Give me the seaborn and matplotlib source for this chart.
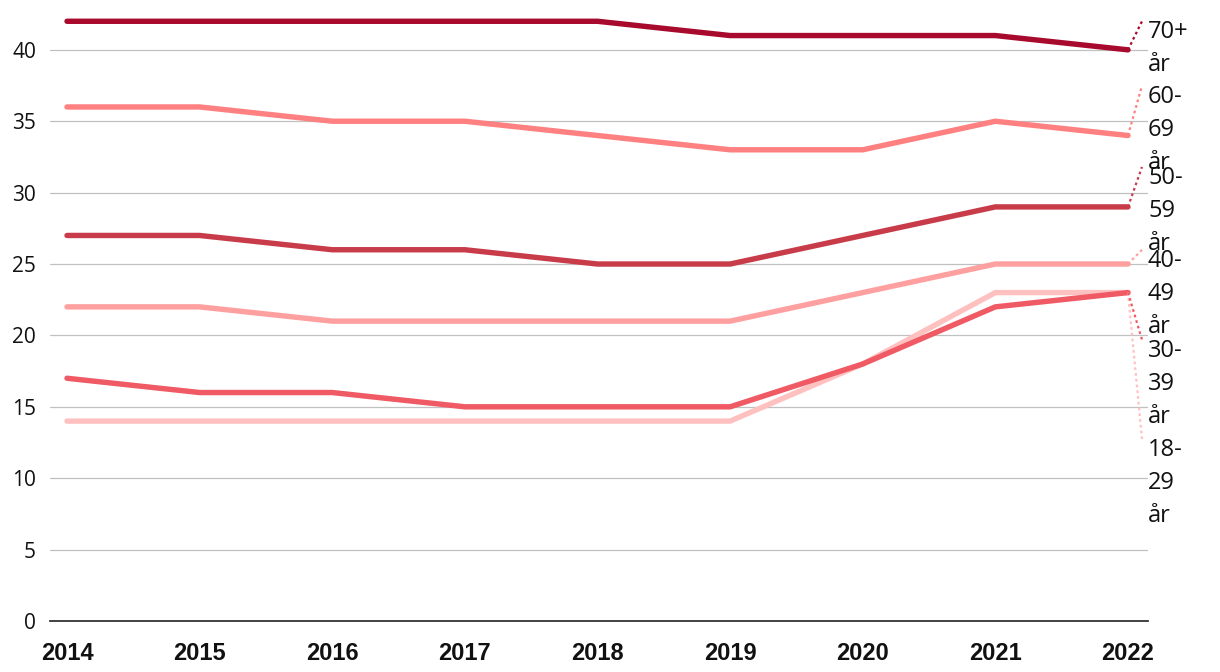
import pandas as pd
import numpy as np
import matplotlib.pyplot as plt
import matplotlib.transforms as mtransforms
import seaborn as sns

years = [2014, 2015, 2016, 2017, 2018, 2019, 2020, 2021, 2022]
age_groups = ['18-29 år', '30-39 år', '40-49 år', '50-59 år', '60-69 år', '70+ år']
share_18_29 = [14, 14, 14, 14, 14, 14, 18, 23, 23]
share_30_39 = [17, 16, 16, 15, 15, 15, 18, 22, 23]
share_40_49 = [22, 22, 21, 21, 21, 21, 23, 25, 25]
share_50_59 = [27, 27, 26, 26, 25, 25, 27, 29, 29]
share_60_69 = [36, 36, 35, 35, 34, 33, 33, 35, 34]
share_70_plus = [42, 42, 42, 42, 42, 41, 41, 41, 40]
colors = ['#ffc0c0', '#f05a64', '#ffa0a0', '#c83c4a', '#ff8080', '#a80a2d']

# baseline of the first line of each end label (data units), pushed apart
label_base = [11.55, 18.5, 24.8, 30.6, 36.3, 40.8]

series = [share_18_29, share_30_39, share_40_49, share_50_59, share_60_69, share_70_plus]
df = pd.DataFrame({
    'year': np.tile(years, len(age_groups)),
    'group': np.repeat(age_groups, len(years)),
    'value': np.concatenate(series),
})

sns.set_style('white')
plt.rcParams['font.family'] = ['Open Sans', 'DejaVu Sans']

fig = plt.figure(figsize=(12.2, 6.72), dpi=100)
ax = fig.add_axes([50 / 1220, 51 / 672, 1098 / 1220, 614 / 672])

sns.lineplot(data=df, x='year', y='value', hue='group', hue_order=age_groups,
             palette=colors, linewidth=3.9, legend=False, ax=ax,
             solid_capstyle='round', solid_joinstyle='round')

ax.set_xlim(2014 - 17 / 132.6, 2022 + 20 / 132.6)
ax.set_ylim(0, 43)
ax.set_yticks(range(0, 45, 5))
ax.set_xticks(years)
ax.set_xlabel('')
ax.set_ylabel('')
ax.grid(axis='y', color='#c0c0c0', linewidth=0.9)
ax.grid(axis='x', visible=False)
ax.set_axisbelow(True)
for side in ['top', 'right', 'left']:
    ax.spines[side].set_visible(False)
ax.spines['bottom'].set_color('#333333')
ax.spines['bottom'].set_linewidth(1.3)
ax.spines['bottom'].set_zorder(5)

ax.tick_params(axis='y', length=0, pad=10, labelsize=15, labelcolor='#111111')
ax.tick_params(axis='x', length=0, pad=15, labelsize=17, labelcolor='#111111')
for lab in ax.get_xticklabels():
    lab.set_fontfamily('Liberation Sans')
    lab.set_fontweight('bold')

# end labels with dotted leaders
trans = mtransforms.blended_transform_factory(ax.transAxes, ax.transData)
for name, vals, col, base in zip(age_groups, series, colors, label_base):
    lines = name.replace('-', '-\n').replace(' ', '\n').split('\n')
    for i, line in enumerate(lines):
        ax.annotate(line, xy=(1.0, base), xycoords=trans,
                    xytext=(0, -i * 23.8), textcoords='offset points',
                    ha='left', va='baseline', fontsize=17, color='#111111',
                    annotation_clip=False)
    ax.plot([years[-1], years[-1] + 14 / 132.6], [vals[-1], base + 1.2],
            color=col, linewidth=1.6, linestyle=(0, (1.2, 1.4)),
            clip_on=False, zorder=3)

fig.savefig('out.png', dpi=100)
